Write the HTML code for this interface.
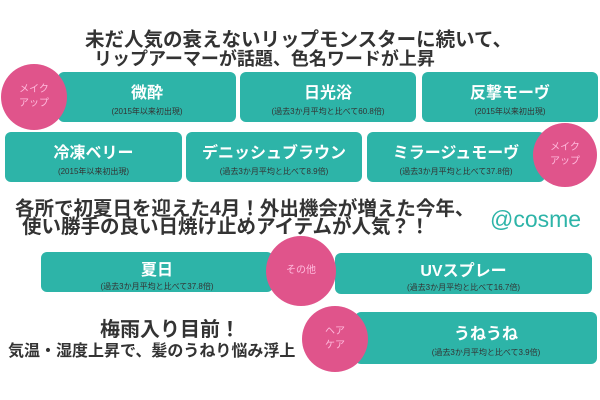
<!DOCTYPE html>
<html><head><meta charset="utf-8"><style>
body{margin:0;width:600px;height:400px;background:#fff;position:relative;overflow:hidden;font-family:"Liberation Sans","Noto Sans CJK JP",sans-serif}
.t{position:absolute;font-weight:bold;color:#333;white-space:nowrap;line-height:1}
.b{position:absolute;background:#2db4a8;border-radius:6px;color:#fff;text-align:center}
.b .m{font-weight:bold;font-size:16px;display:block}
.b .s{font-size:8px;color:#333;display:block;margin-top:3px}
.c{position:absolute;border-radius:50%;background:#e0548b;color:#fbd;font-size:10px;display:flex;align-items:center;justify-content:center;text-align:center;line-height:1.4}
</style></head><body>
<div class="t" style="left:85px;top:31px;font-size:19.5px">未だ人気の衰えないリップモンスターに続いて、</div>
<div class="t" style="left:94px;top:50px;font-size:18px">リップアーマーが話題、色名ワードが上昇</div>

<div class="b" style="left:58px;top:72px;width:178px;height:50px"><span class="m" style="margin-top:7px">微酔</span><span class="s">(2015年以来初出現)</span></div>
<div class="b" style="left:240px;top:72px;width:176px;height:50px"><span class="m" style="margin-top:7px">日光浴</span><span class="s">(過去3か月平均と比べて60.8倍)</span></div>
<div class="b" style="left:422px;top:72px;width:176px;height:50px"><span class="m" style="margin-top:7px">反撃モーヴ</span><span class="s">(2015年以来初出現)</span></div>
<div class="c" style="left:1px;top:64px;width:66px;height:66px">メイク<br>アップ</div>

<div class="b" style="left:5px;top:132px;width:177px;height:50px"><span class="m" style="margin-top:7px">冷凍ベリー</span><span class="s">(2015年以来初出現)</span></div>
<div class="b" style="left:186px;top:132px;width:176px;height:50px"><span class="m" style="margin-top:7px">デニッシュブラウン</span><span class="s">(過去3か月平均と比べて8.9倍)</span></div>
<div class="b" style="left:367px;top:132px;width:178px;height:50px"><span class="m" style="margin-top:7px">ミラージュモーヴ</span><span class="s">(過去3か月平均と比べて37.8倍)</span></div>
<div class="c" style="left:533px;top:123px;width:64px;height:64px">メイク<br>アップ</div>

<div class="t" style="left:15px;top:200px;font-size:19.5px">各所で初夏日を迎えた4月！外出機会が増えた今年、</div>
<div class="t" style="left:22px;top:218px;font-size:19.5px">使い勝手の良い日焼け止めアイテムが人気？！</div>
<div class="t" style="left:490px;top:208px;font-size:23px;color:#2db4a8;font-weight:normal">@cosme</div>

<div class="b" style="left:41px;top:252px;width:232px;height:40px"><span class="m" style="margin-top:4px">夏日</span><span class="s" style="margin-top:1px">(過去3か月平均と比べて37.8倍)</span></div>
<div class="b" style="left:335px;top:253px;width:257px;height:41px"><span class="m" style="margin-top:4px">UVスプレー</span><span class="s" style="margin-top:1px">(過去3か月平均と比べて16.7倍)</span></div>
<div class="c" style="left:266px;top:236px;width:70px;height:70px">その他</div>

<div class="t" style="left:100px;top:320px;font-size:20px">梅雨入り目前！</div>
<div class="t" style="left:8px;top:344px;font-size:16px">気温・湿度上昇で、髪のうねり悩み浮上</div>
<div class="b" style="left:355px;top:312px;width:242px;height:52px"><span class="m" style="margin-top:8px;padding-left:20px">うねうね</span><span class="s" style="padding-left:20px">(過去3か月平均と比べて3.9倍)</span></div>
<div class="c" style="left:302px;top:306px;width:66px;height:66px">ヘア<br>ケア</div>
</body></html>
